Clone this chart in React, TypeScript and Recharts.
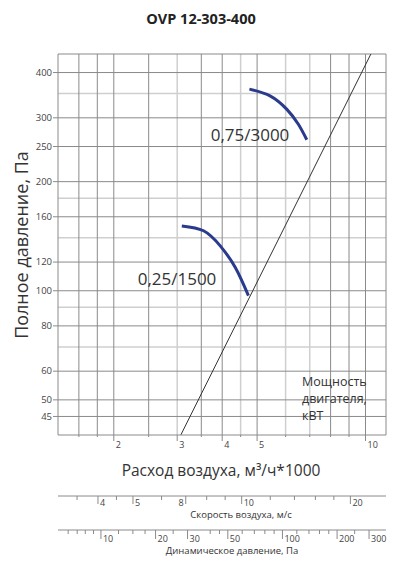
import { ComposedChart, Line, XAxis, YAxis, CartesianGrid } from 'recharts';

const FONT = "'Open Sans', sans-serif";

// air flow, m3/h * 1000 (log scale)
const flowDomain = [1.4, 11.4];
const flowTicks = [1.6, 1.8, 2, 2.5, 3, 3.5, 4, 4.5, 5, 6, 7, 8, 9, 10];
const flowLabels = [2, 3, 4, 5, 10];
const flowLight = [3, 4.5, 6, 7];
const flowDark = [1.6, 1.8, 2, 2.5, 3.5, 4, 5, 8, 9, 10, 11.4];

// total pressure, Pa (log scale)
const pressureDomain = [40, 450];
const pressureTicks = [45, 50, 60, 70, 80, 90, 100, 120, 140, 160, 180, 200, 250, 300, 350, 400];
const pressureLabels = [45, 50, 60, 80, 100, 120, 160, 200, 250, 300, 400];
const pressureLight = [70, 90, 140, 180, 350];
const pressureDark = [45, 50, 60, 80, 100, 120, 160, 200, 250, 300, 400, 450];

// air speed, m/s
const speedDomain = [3.1, 25.1];
const speedTicks = [3.5, 4, 4.5, 5, 6, 7, 8, 9, 10, 12, 14, 16, 18, 20];
const speedLabels: Record<number, string> = { 4: '4', 5: '5', 7: '8', 10: '10', 20: '20' };

// dynamic pressure, Pa
const dynDomain = [5.8, 372];
const dynTicks = [6.6, 7.4, 8.2, 9.1, 10, 12.5, 15, 17.5, 20, 25, 30, 40, 45, 50, 60, 70, 80, 90, 100, 120, 140, 160, 180, 200, 250, 300];
const dynLabels = [10, 20, 30, 50, 100, 200, 300];

// system line and fan curves
const systemLine = [
  { q: 3.07, p: 40 },
  { q: 10.35, p: 450 },
];
const fan1500 = [
  { q: 3.09, p: 151 },
  { q: 3.55, p: 146.4 },
  { q: 3.95, p: 133 },
  { q: 4.35, p: 116 },
  { q: 4.73, p: 97 },
];
const fan3000 = [
  { q: 4.76, p: 360 },
  { q: 5.43, p: 345 },
  { q: 6.04, p: 317 },
  { q: 6.51, p: 288 },
  { q: 6.87, p: 261 },
];

const FlowTick = (props: any) => {
  const { x, y, payload } = props;
  const on = flowLabels.includes(payload.value);
  return (
    <g>
      <line x1={x} x2={x} y1={y} y2={y + (on ? 6 : 2)} stroke="#8a8a8a" />
      {on && (
        <text x={x + 2} y={y + 13} fontSize={9} fill="#444" fontFamily={FONT}>
          {payload.value}
        </text>
      )}
    </g>
  );
};

const PressureTick = (props: any) => {
  const { x, y, payload } = props;
  if (!pressureLabels.includes(payload.value)) return <g />;
  return (
    <g>
      <line x1={x - 5} x2={x} y1={y} y2={y} stroke="#8a8a8a" />
      <text x={x - 6} y={y} dy="0.35em" textAnchor="end" fontSize={9.5} fill="#444" fontFamily={FONT}>
        {payload.value}
      </text>
    </g>
  );
};

const SpeedTick = (props: any) => {
  const { x, y, payload } = props;
  const label = speedLabels[payload.value];
  // the "8" sits left of its tick in the source chart
  const left = label === '8';
  return (
    <g>
      <line x1={x} x2={x} y1={y} y2={y + (label ? 8 : 4)} stroke="#8a8a8a" />
      {label && (
        <text x={left ? x - 2 : x + 2} y={y + 10} textAnchor={left ? 'end' : 'start'} fontSize={9} fill="#444" fontFamily={FONT}>
          {label}
        </text>
      )}
    </g>
  );
};

const DynTick = (props: any) => {
  const { x, y, payload } = props;
  const on = dynLabels.includes(payload.value);
  return (
    <g>
      <line x1={x} x2={x} y1={y} y2={y + (on ? 9 : 4)} stroke="#8a8a8a" />
      {on && (
        <text x={x + 2} y={y + 11.5} fontSize={9} fill="#444" fontFamily={FONT}>
          {payload.value}
        </text>
      )}
    </g>
  );
};

const txt = (left: number, top: number, size: number, extra: any = {}) => ({
  position: 'absolute' as const,
  left,
  top,
  transform: 'translate(-50%, -50%)',
  fontSize: size,
  lineHeight: 1,
  whiteSpace: 'nowrap' as const,
  color: '#333',
  fontFamily: FONT,
  ...extra,
});

const note = (top: number) => ({
  position: 'absolute' as const,
  left: 302,
  top,
  fontSize: 12.5,
  lineHeight: 1,
  color: '#333',
  fontFamily: FONT,
});

export default function App() {
  return (
    <div style={{ position: 'absolute', left: 0, top: 0, width: 398, height: 561, background: '#fff' }}>
      <ComposedChart width={398} height={561} data={systemLine} margin={{ top: 54, right: 12, bottom: 0, left: 0 }}>
        <CartesianGrid stroke="#cfcfcf" strokeWidth={1.5} horizontalValues={pressureLight} verticalValues={flowLight} />
        <CartesianGrid stroke="#8a8a8a" horizontalValues={pressureDark} verticalValues={flowDark} />
        <XAxis
          dataKey="q"
          type="number"
          scale="log"
          domain={flowDomain}
          allowDataOverflow
          ticks={flowTicks}
          interval={0}
          tick={<FlowTick />}
          tickLine={false}
          tickSize={0}
          tickMargin={0}
          axisLine={{ stroke: '#8a8a8a' }}
          height={61}
        />
        <XAxis
          xAxisId="b_dyn"
          dataKey="q"
          type="number"
          scale="log"
          domain={dynDomain}
          allowDataOverflow
          ticks={dynTicks}
          interval={0}
          tick={<DynTick />}
          tickLine={false}
          tickSize={0}
          tickMargin={0}
          axisLine={{ stroke: '#8a8a8a' }}
          height={31}
        />
        <XAxis
          xAxisId="a_speed"
          dataKey="q"
          type="number"
          scale="log"
          domain={speedDomain}
          allowDataOverflow
          ticks={speedTicks}
          interval={0}
          tick={<SpeedTick />}
          tickLine={false}
          tickSize={0}
          tickMargin={0}
          axisLine={{ stroke: '#8a8a8a' }}
          height={34}
        />
        <YAxis
          dataKey="p"
          type="number"
          scale="log"
          domain={pressureDomain}
          allowDataOverflow
          ticks={pressureTicks}
          interval={0}
          tick={<PressureTick />}
          tickLine={false}
          tickSize={0}
          tickMargin={0}
          axisLine={{ stroke: '#8a8a8a' }}
          width={58}
        />
        <Line dataKey="p" stroke="#333" strokeWidth={1} dot={false} isAnimationActive={false} />
        <Line data={fan1500} dataKey="p" type="natural" stroke="#2a3a8c" strokeWidth={3} dot={false} isAnimationActive={false} />
        <Line data={fan3000} dataKey="p" type="natural" stroke="#2a3a8c" strokeWidth={3} dot={false} isAnimationActive={false} />
      </ComposedChart>

      <div style={txt(201, 19, 14.5, { fontWeight: 700, color: '#222' })}>OVP 12-303-400</div>
      <div style={txt(21, 245, 18, { transform: 'translate(-50%, -50%) rotate(-90deg)' })}>Полное давление, Па</div>
      <div style={txt(221, 471, 15.5)}>Расход воздуха, м³/ч*1000</div>
      <div style={txt(241, 515, 9.5)}>Скорость воздуха, м/с</div>
      <div style={txt(232, 551, 9.5)}>Динамическое давление, Па</div>
      <div style={txt(250, 134, 17)}>0,75/3000</div>
      <div style={txt(177, 278, 17)}>0,25/1500</div>
      <div style={note(376)}>Мощность</div>
      <div style={note(393)}>двигателя,</div>
      <div style={note(410)}>кВТ</div>
    </div>
  );
}
